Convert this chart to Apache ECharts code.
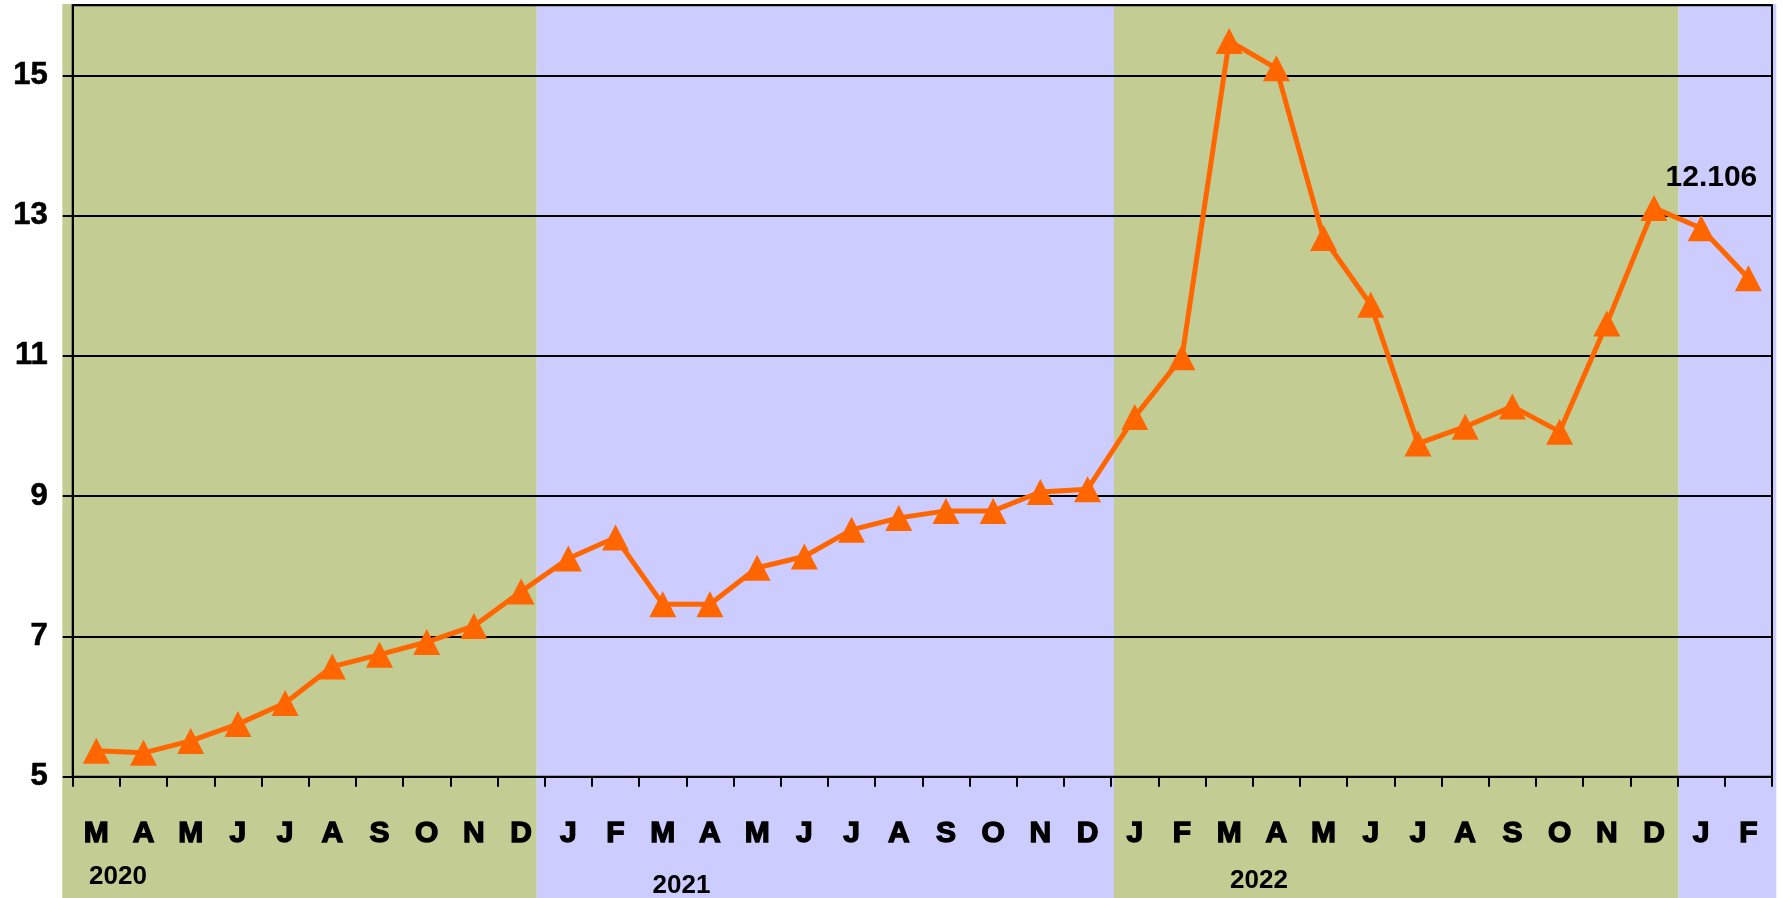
<!DOCTYPE html>
<html>
<head>
<meta charset="utf-8">
<style>
html,body{margin:0;padding:0;background:#ffffff;}
#chart{width:1783px;height:898px;}
</style>
<script src="https://cdn.jsdelivr.net/npm/echarts@6/dist/echarts.min.js"></script>
</head>
<body>
<div id="chart"></div>
<script>
// ---- data ----
const monthLabels = ['M','A','M','J','J','A','S','O','N','D',
                     'J','F','M','A','M','J','J','A','S','O','N','D',
                     'J','F','M','A','M','J','J','A','S','O','N','D',
                     'J','F'];
const rateValues = [5.37, 5.34, 5.51, 5.75, 6.05, 6.57, 6.74, 6.92, 7.15, 7.64,
                    8.11, 8.41, 7.46, 7.46, 7.98, 8.14, 8.52, 8.69, 8.79, 8.79, 9.06, 9.10,
                    10.13, 10.98, 15.49, 15.10, 12.68, 11.73, 9.75, 9.99, 10.28, 9.92, 11.46, 13.11,
                    12.82, 12.106];
const yearLabels = ['2020', '2021', '2022'];
// band edges in month-index units (bands alternate by year)
const bandEdges = [-0.22, 9.83, 22.06, 34.02, 36.09];

// ---- build ----
const categories = monthLabels.map((m, i) => m + '|' + i);
const GREEN = '#C3CC93';
const PURPLE = '#CCCCFF';
const ORANGE = '#FF6600';

const bandData = [];
for (let i = 0; i < bandEdges.length - 1; i++) {
  bandData.push([
    { xAxis: bandEdges[i], itemStyle: { color: i % 2 === 0 ? GREEN : PURPLE, opacity: 1 } },
    { xAxis: bandEdges[i + 1] }
  ]);
}

const lastIdx = rateValues.length - 1;
const seriesData = rateValues.map((v, i) => {
  if (i === lastIdx) {
    return {
      value: v,
      label: {
        show: true,
        position: 'top',
        offset: [-37, -68],
        formatter: () => String(v),
        color: '#000',
        fontFamily: 'Liberation Sans',
        fontWeight: 'bold',
        fontSize: 30
      }
    };
  }
  return v;
});

const yearPos = [[118, 877], [681.5, 886], [1259, 881]];
const graphics = yearLabels.map((y, i) => ({
  type: 'text',
  x: yearPos[i][0],
  y: yearPos[i][1],
  z: 50,
  style: {
    text: y,
    fill: '#000',
    font: 'bold 26px "Liberation Sans"',
    align: 'center',
    verticalAlign: 'middle'
  }
}));

const chart = echarts.init(document.getElementById('chart'), null, { renderer: 'canvas' });
chart.setOption({
  animation: false,
  backgroundColor: '#ffffff',
  grid: [
    { left: 72.7, right: 11, top: 5.2, bottom: 121.3, show: true, borderColor: '#000', borderWidth: 2, backgroundColor: 'transparent', z: 5 },
    { left: 62.3, right: 6.7, top: 4, bottom: 0, show: false, z: 0 }
  ],
  xAxis: [
    {
      type: 'category', gridIndex: 0, data: categories, boundaryGap: true, z: 5,
      axisLine: { show: true, lineStyle: { color: '#000', width: 2 } },
      axisTick: { show: true, interval: 0, length: 10, lineStyle: { color: '#000', width: 2 } },
      axisLabel: {
        interval: 0, margin: 42, color: '#000',
        fontFamily: 'Liberation Sans', fontWeight: 'bold', fontSize: 30,
        textBorderColor: '#000', textBorderWidth: 1.4,
        formatter: (v) => v.split('|')[0]
      },
      splitLine: { show: false }
    },
    { type: 'value', gridIndex: 1, min: bandEdges[0], max: bandEdges[bandEdges.length - 1], show: false }
  ],
  yAxis: [
    {
      type: 'value', gridIndex: 0, min: 5, max: 16, interval: 2, z: 5,
      axisLine: { show: true, lineStyle: { color: '#000', width: 2 } },
      axisTick: { show: true, length: 10, lineStyle: { color: '#000', width: 2 } },
      axisLabel: {
        margin: 25, showMaxLabel: false, color: '#000',
        fontFamily: 'Liberation Sans', fontWeight: 'bold', fontSize: 31,
        textBorderColor: '#000', textBorderWidth: 0.6
      },
      splitLine: { show: true, lineStyle: { color: '#000', width: 2 } }
    },
    { type: 'value', gridIndex: 1, min: 0, max: 1, show: false }
  ],
  series: [
    {
      type: 'line', xAxisIndex: 1, yAxisIndex: 1, data: [], silent: true, z: 0,
      markArea: { silent: true, z: 0, data: bandData }
    },
    {
      type: 'line', xAxisIndex: 0, yAxisIndex: 0, z: 20,
      data: seriesData,
      symbol: 'triangle',
      symbolSize: [27, 26],
      showAllSymbol: true,
      itemStyle: { color: ORANGE },
      lineStyle: { color: ORANGE, width: 5 },
      label: { show: false }
    }
  ],
  graphic: graphics
});
</script>
</body>
</html>
